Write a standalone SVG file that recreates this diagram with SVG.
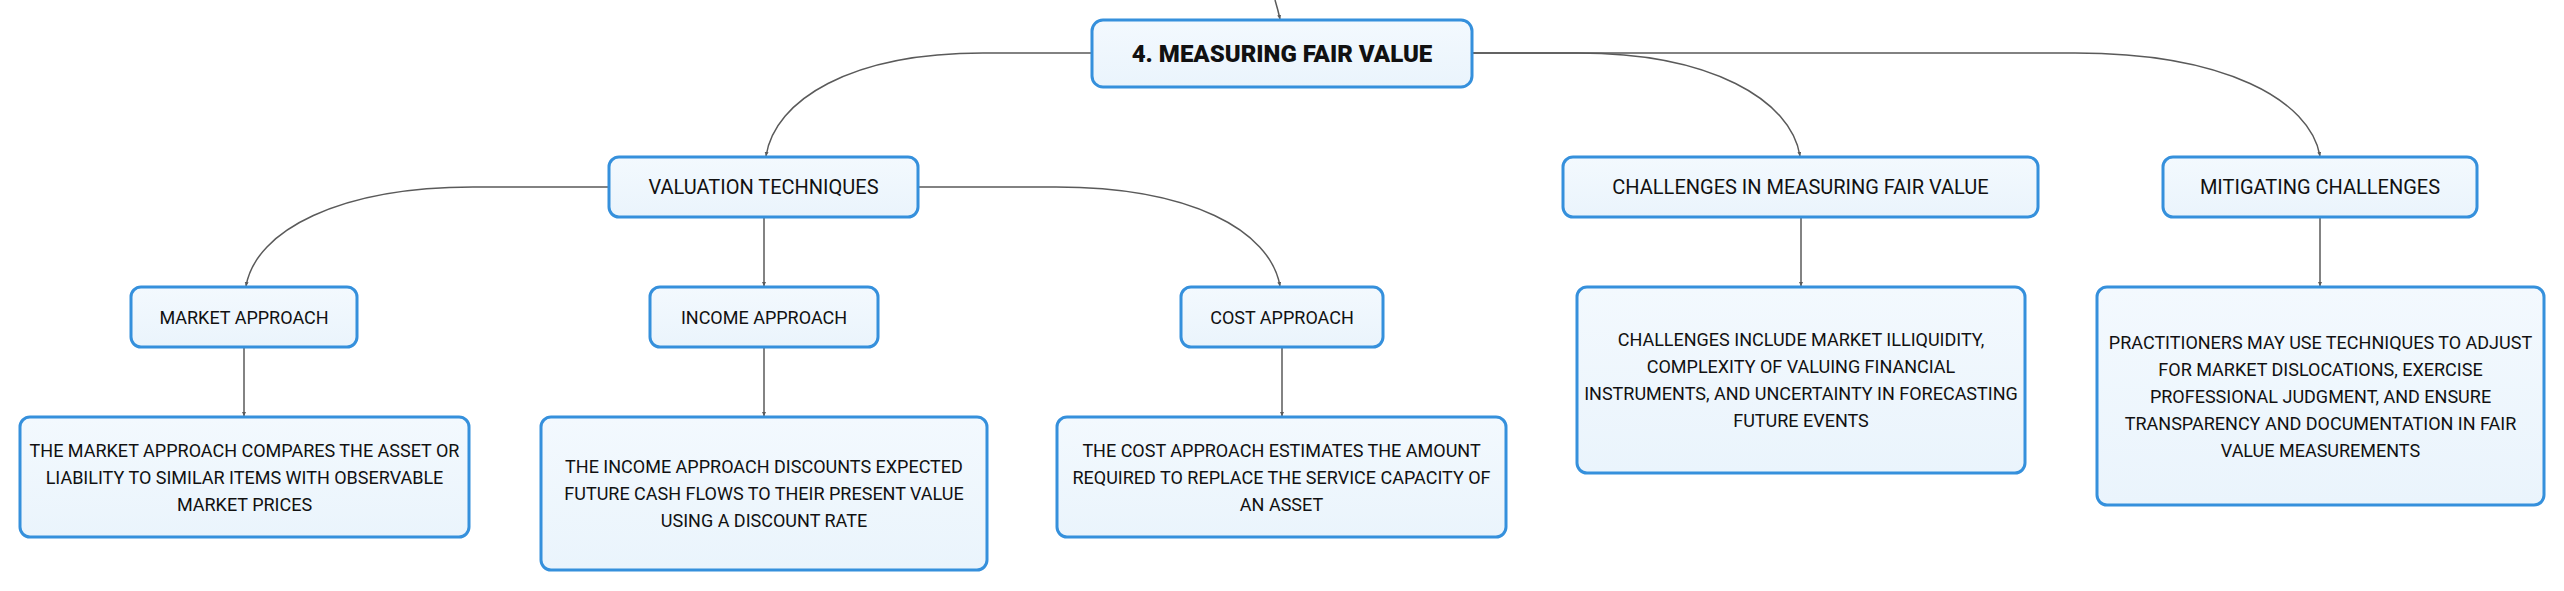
<svg xmlns="http://www.w3.org/2000/svg" width="2564" height="591" viewBox="0 0 2564 591">
<style>
.box{fill:url(#bg);stroke:#3590dc;stroke-width:3}
.t{font-family:Roboto,"Liberation Sans",sans-serif;fill:#111;text-anchor:middle;dominant-baseline:central}
.t20{font-size:20px}
.t18{font-size:18px}
.title{font-size:24px;font-weight:900}
.c{fill:none;stroke:#5a5a5a;stroke-width:1.5;marker-end:url(#arr)}
</style>
<defs>
<linearGradient id="bg" x1="0" y1="0" x2="0" y2="1">
<stop offset="0" stop-color="#f3f9fe"/>
<stop offset="1" stop-color="#eaf4fc"/>
</linearGradient>
<marker id="arr" markerUnits="userSpaceOnUse" markerWidth="5" markerHeight="5" refX="4" refY="2" orient="auto">
<path d="M0,0 L4,2 L0,4 z" fill="#5a5a5a"/>
</marker>
</defs>
<rect width="2564" height="591" fill="#ffffff"/>
<g id="connectors">
<path class="c" d="M1275 0 Q1278 10 1280 19"/>
<path class="c" d="M1092 53 H983 C850 53 775 100 766 156"/>
<path class="c" d="M1472 53 H1578 C1711 53 1791 100 1800 156"/>
<path class="c" d="M1472 53 H2075 C2225 53 2310 100 2320 156"/>
<path class="c" d="M609 187 H473 C340 187 256 230 246 286"/>
<path class="c" d="M764 217 V286"/>
<path class="c" d="M918 187 H1056 C1190 187 1270 230 1280 286"/>
<path class="c" d="M244 347 V416"/>
<path class="c" d="M764 347 V416"/>
<path class="c" d="M1282 347 V416"/>
<path class="c" d="M1801 217 V286"/>
<path class="c" d="M2320 217 V286"/>
</g>
<g id="main">
<rect class="box" x="1092" y="20" width="380" height="67" rx="11"/>
<text class="t title" x="1282" y="54">4. MEASURING FAIR VALUE</text>
</g>
<g id="valuation">
<rect class="box" x="609" y="157" width="309" height="60" rx="10"/>
<text class="t t20" x="763.5" y="187">VALUATION TECHNIQUES</text>
</g>
<g id="challenges">
<rect class="box" x="1563" y="157" width="475" height="60" rx="10"/>
<text class="t t20" x="1800.5" y="187">CHALLENGES IN MEASURING FAIR VALUE</text>
</g>
<g id="mitigating">
<rect class="box" x="2163" y="157" width="314" height="60" rx="10"/>
<text class="t t20" x="2320" y="187">MITIGATING CHALLENGES</text>
</g>
<g id="market">
<rect class="box" x="131" y="287" width="226" height="60" rx="10"/>
<text class="t t18" x="244" y="317">MARKET APPROACH</text>
</g>
<g id="income">
<rect class="box" x="650" y="287" width="228" height="60" rx="10"/>
<text class="t t18" x="764" y="317">INCOME APPROACH</text>
</g>
<g id="cost">
<rect class="box" x="1181" y="287" width="202" height="60" rx="10"/>
<text class="t t18" x="1282" y="317">COST APPROACH</text>
</g>
<g id="market-desc">
<rect class="box" x="20" y="417" width="449" height="120" rx="10"/>
<text class="t t18" x="244.5" y="450">THE MARKET APPROACH COMPARES THE ASSET OR</text>
<text class="t t18" x="244.5" y="477">LIABILITY TO SIMILAR ITEMS WITH OBSERVABLE</text>
<text class="t t18" x="244.5" y="504">MARKET PRICES</text>
</g>
<g id="income-desc">
<rect class="box" x="541" y="417" width="446" height="153" rx="10"/>
<text class="t t18" x="764" y="466">THE INCOME APPROACH DISCOUNTS EXPECTED</text>
<text class="t t18" x="764" y="493">FUTURE CASH FLOWS TO THEIR PRESENT VALUE</text>
<text class="t t18" x="764" y="520">USING A DISCOUNT RATE</text>
</g>
<g id="cost-desc">
<rect class="box" x="1057" y="417" width="449" height="120" rx="10"/>
<text class="t t18" x="1281.5" y="450">THE COST APPROACH ESTIMATES THE AMOUNT</text>
<text class="t t18" x="1281.5" y="477">REQUIRED TO REPLACE THE SERVICE CAPACITY OF</text>
<text class="t t18" x="1281.5" y="504">AN ASSET</text>
</g>
<g id="challenges-desc">
<rect class="box" x="1577" y="287" width="448" height="186" rx="10"/>
<text class="t t18" x="1801" y="339">CHALLENGES INCLUDE MARKET ILLIQUIDITY,</text>
<text class="t t18" x="1801" y="366">COMPLEXITY OF VALUING FINANCIAL</text>
<text class="t t18" x="1801" y="393">INSTRUMENTS, AND UNCERTAINTY IN FORECASTING</text>
<text class="t t18" x="1801" y="420">FUTURE EVENTS</text>
</g>
<g id="mitigating-desc">
<rect class="box" x="2097" y="287" width="447" height="218" rx="10"/>
<text class="t t18" x="2320.5" y="342">PRACTITIONERS MAY USE TECHNIQUES TO ADJUST</text>
<text class="t t18" x="2320.5" y="369">FOR MARKET DISLOCATIONS, EXERCISE</text>
<text class="t t18" x="2320.5" y="396">PROFESSIONAL JUDGMENT, AND ENSURE</text>
<text class="t t18" x="2320.5" y="423">TRANSPARENCY AND DOCUMENTATION IN FAIR</text>
<text class="t t18" x="2320.5" y="450">VALUE MEASUREMENTS</text>
</g>
</svg>
